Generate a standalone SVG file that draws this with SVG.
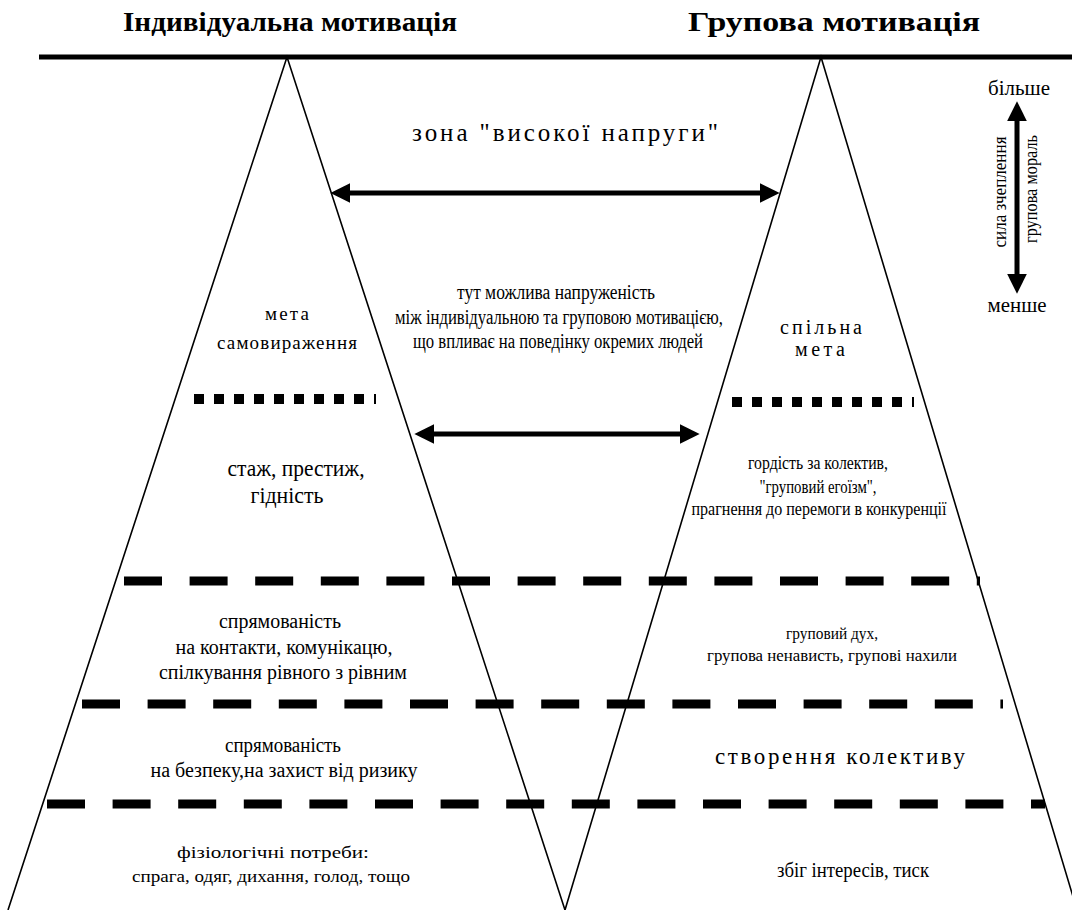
<svg xmlns="http://www.w3.org/2000/svg" width="1072" height="910" viewBox="0 0 1072 910" font-family="Liberation Serif, Times New Roman, serif">
<style>
text{font-family:"Liberation Serif","Times New Roman",serif}
.t{fill:#000;text-anchor:middle}
.b{font-weight:bold;text-anchor:start}
.edge{fill:none;stroke:#000;stroke-width:1.6}
.dash{fill:none;stroke:#000;stroke-width:9;stroke-dasharray:38 27.6}
.dot{fill:none;stroke:#000;stroke-width:10;stroke-dasharray:10 10}
.arr{fill:none;stroke:#000;stroke-width:5;marker-start:url(#ah);marker-end:url(#ah)}
</style>
<defs>
<marker id="ah" markerUnits="userSpaceOnUse" markerWidth="20" markerHeight="20" viewBox="0 0 18 18" refX="3" refY="9" orient="auto-start-reverse">
<path d="M0,0 L18,9 L0,18 z" fill="#000"/>
</marker>
</defs>
<g id="titles">
<text class="t b" x="123" y="31" font-size="27" textLength="334" lengthAdjust="spacingAndGlyphs">Індивідуальна  мотивація</text>
<text class="t b" x="688" y="31" font-size="27" textLength="292" lengthAdjust="spacingAndGlyphs">Групова  мотивація</text>
</g>
<g id="frame">
<line x1="39" y1="57" x2="1072" y2="57" stroke="#000" stroke-width="5"/>
<polyline class="edge" points="8,910 287,57 565,910"/>
<polyline class="edge" points="565,910 821,57 1077,910"/>
</g>
<g id="levels">
<line class="dot" x1="194" y1="399" x2="376" y2="399"/>
<line class="dot" x1="732" y1="402" x2="914" y2="402"/>
<line class="dash" x1="124" y1="581" x2="980" y2="581"/>
<line class="dash" x1="82" y1="704" x2="1003" y2="704"/>
<line class="dash" x1="47" y1="804" x2="1045" y2="804"/>
</g>
<g id="connectors">
<line class="arr" x1="347" y1="193" x2="763" y2="193"/>
<line class="arr" x1="431" y1="434" x2="683" y2="434"/>
<line class="arr" x1="1017" y1="118" x2="1017" y2="277"/>
</g>
<g id="zone">
<text class="t" x="565" y="141" font-size="25" textLength="306" lengthAdjust="spacing">зона "високої  напруги"</text>
</g>
<g id="tension">
<text class="t" x="556" y="299" font-size="20" textLength="198" lengthAdjust="spacingAndGlyphs">тут можлива напруженість</text>
<text class="t" x="559" y="324" font-size="20" textLength="328" lengthAdjust="spacingAndGlyphs">між індивідуальною та груповою мотивацією,</text>
<text class="t" x="558" y="348" font-size="20" textLength="290" lengthAdjust="spacingAndGlyphs">що впливає на поведінку окремих людей</text>
</g>
<g id="ind-goal">
<text class="t" x="287" y="320" font-size="19" textLength="44" lengthAdjust="spacing">мета</text>
<text class="t" x="287" y="349" font-size="19" textLength="140" lengthAdjust="spacing">самовираження</text>
</g>
<g id="grp-goal">
<text class="t" x="821" y="334" font-size="20" textLength="82" lengthAdjust="spacing">спільна</text>
<text class="t" x="820" y="356" font-size="20" textLength="50" lengthAdjust="spacing">мета</text>
</g>
<g id="ind-status">
<text class="t" x="296" y="476" font-size="23" textLength="137" lengthAdjust="spacingAndGlyphs">стаж, престиж,</text>
<text class="t" x="287" y="503" font-size="23" textLength="73" lengthAdjust="spacingAndGlyphs">гідність</text>
</g>
<g id="grp-pride">
<text class="t" x="818" y="469" font-size="18" textLength="140" lengthAdjust="spacingAndGlyphs">гордість за колектив,</text>
<text class="t" x="818" y="493" font-size="18" textLength="117" lengthAdjust="spacingAndGlyphs">"груповий егоїзм",</text>
<text class="t" x="819" y="515" font-size="18" textLength="255" lengthAdjust="spacingAndGlyphs">прагнення до перемоги в конкуренції</text>
</g>
<g id="ind-contact">
<text class="t" x="280" y="628" font-size="20" textLength="122" lengthAdjust="spacingAndGlyphs">спрямованість</text>
<text class="t" x="284" y="654" font-size="20" textLength="217" lengthAdjust="spacingAndGlyphs">на контакти, комунікацю,</text>
<text class="t" x="283" y="679" font-size="20" textLength="248" lengthAdjust="spacingAndGlyphs">спілкування рівного з рівним</text>
</g>
<g id="grp-spirit">
<text class="t" x="832" y="639" font-size="16" textLength="92" lengthAdjust="spacingAndGlyphs">груповий дух,</text>
<text class="t" x="832" y="661" font-size="16" textLength="250" lengthAdjust="spacingAndGlyphs">групова ненависть, групові нахили</text>
</g>
<g id="ind-safety">
<text class="t" x="283" y="752" font-size="20" textLength="116" lengthAdjust="spacingAndGlyphs">спрямованість</text>
<text class="t" x="284" y="777" font-size="20" textLength="267" lengthAdjust="spacingAndGlyphs">на безпеку,на захист від ризику</text>
</g>
<g id="grp-create">
<text class="t" x="840" y="764" font-size="23" textLength="250" lengthAdjust="spacing">створення колективу</text>
</g>
<g id="ind-phys">
<text class="t" x="273" y="858" font-size="17" textLength="192" lengthAdjust="spacingAndGlyphs">фізіологічні потреби:</text>
<text class="t" x="271" y="882" font-size="17" textLength="278" lengthAdjust="spacingAndGlyphs">спрага, одяг, дихання, голод, тощо</text>
</g>
<g id="grp-pressure">
<text class="t" x="853" y="877" font-size="21" textLength="152" lengthAdjust="spacingAndGlyphs">збіг інтересів, тиск</text>
</g>
<g id="scale">
<text class="t" x="1019" y="95" font-size="20" textLength="62" lengthAdjust="spacingAndGlyphs">більше</text>
<text class="t" x="1017" y="312" font-size="20" textLength="59" lengthAdjust="spacingAndGlyphs">менше</text>
<text class="t" transform="translate(1006,192) rotate(-90)" font-size="19" textLength="111" lengthAdjust="spacingAndGlyphs">сила зчеплення</text>
<text class="t" transform="translate(1037,189) rotate(-90)" font-size="19" textLength="108" lengthAdjust="spacingAndGlyphs">групова мораль</text>
</g>
</svg>
